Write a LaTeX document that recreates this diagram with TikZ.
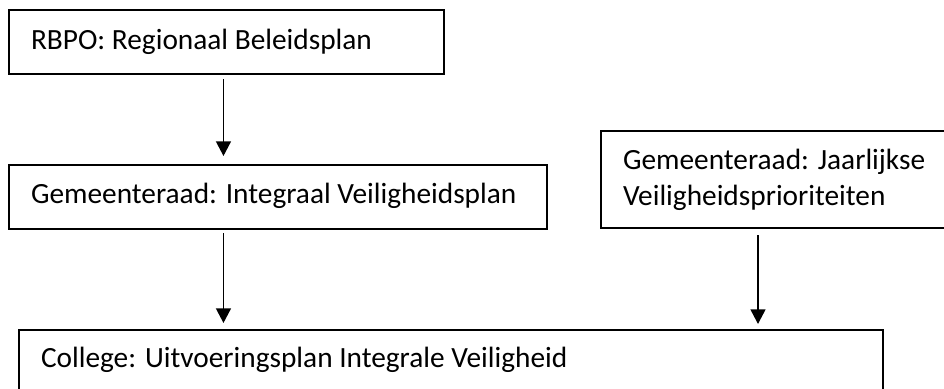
\documentclass[tikz,border=0pt]{standalone}
\usepackage{fontspec}
\setmainfont{Carlito}
\usetikzlibrary{arrows.meta, positioning, calc}

\begin{document}
\begin{tikzpicture}[x=0.375pt, y=-0.375pt,
  planBox/.style={draw, line width=0.75pt, anchor=north west, align=flush left,
    inner xsep=8.25pt, inner ysep=0pt, font=\fontsize{11pt}{13.5pt}\selectfont},
  flow/.style={line width=0.65pt, -{Triangle[length=5.5pt, width=5.6pt]}}]
\useasboundingbox (0,0) rectangle (944,389);
\clip (0,0) rectangle (944,389);
\node[planBox, text width=146.6pt, text height=15pt, text depth=9pt] (rbpo) at (8,9) {RBPO: Regionaal Beleidsplan};
\node[planBox, text width=185.2pt, text height=14.6pt, text depth=9.4pt] (ivp) at (8,164) {Gemeenteraad: Integraal Veiligheidsplan};
\node[planBox, text width=125pt, minimum height=36.4pt] (jvp) at (600,130) {Gemeenteraad: Jaarlijkse\\Veiligheidsprioriteiten};
\node[planBox, text width=307.6pt, text height=13.9pt, text depth=12pt] (uip) at (18,329) {College: Uitvoeringsplan Integrale Veiligheid};
\draw[flow] ($(rbpo.south)+(-3,4)$) -- ($(rbpo.south |- ivp.north)+(-3,-8)$);
\draw[flow] ($(rbpo.south |- ivp.south)+(-3,3)$) -- ($(rbpo.south |- uip.north)+(-3,-6)$);
\draw[flow] ($(jvp.west |- jvp.south)+(158,6)$) -- ($(jvp.west |- uip.north)+(158,-5)$);
\end{tikzpicture}
\end{document}
